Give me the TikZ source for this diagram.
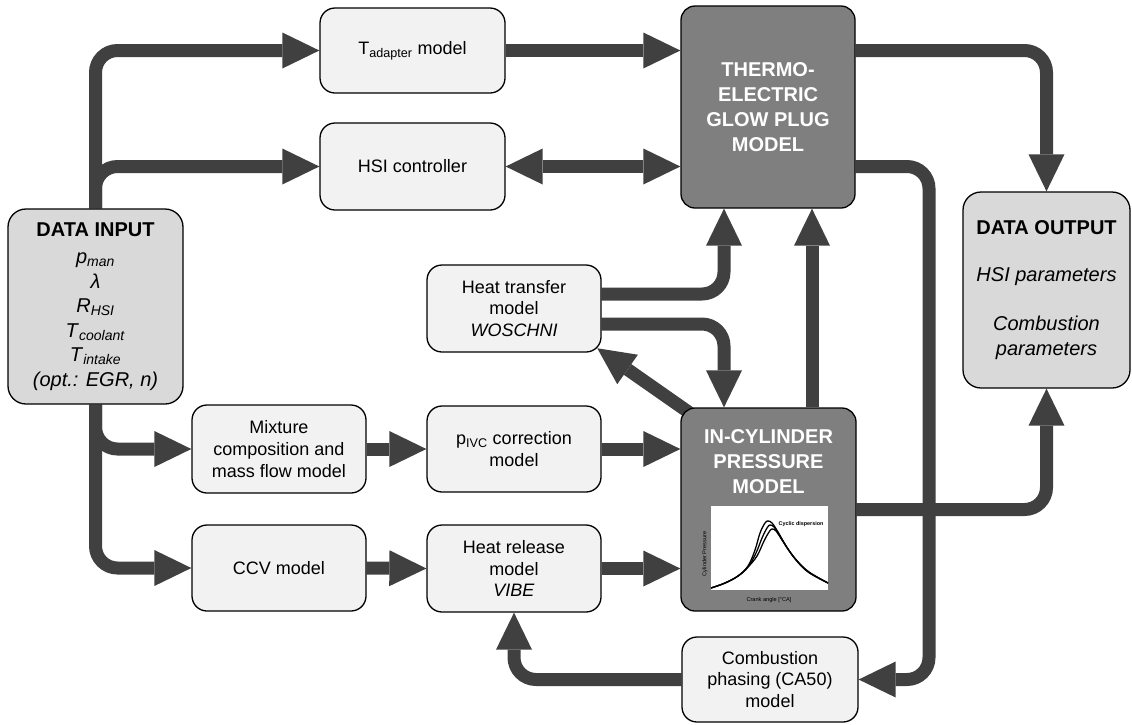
\documentclass[tikz,border=0pt]{standalone}
\usepackage{fontspec}
\setmainfont{Liberation Sans}
\usetikzlibrary{arrows.meta,calc}
\definecolor{arrowgray}{HTML}{404040}
\definecolor{boxlight}{HTML}{F2F2F2}
\definecolor{boxio}{HTML}{D9D9D9}
\definecolor{boxdark}{HTML}{7F7F7F}
\pgfdeclarelayer{bg}
\pgfsetlayers{bg,main}

\begin{document}
\begin{tikzpicture}[x=1pt,y=-1pt,
  >={Triangle[length=37pt,width=36pt,line width'=0pt]},
  box/.style={draw=black, line width=1.3pt, rounded corners=15pt, fill=boxlight,
    align=center, inner sep=0pt, font=\fontsize{18pt}{21.6pt}\selectfont},
  iobox/.style={box, fill=boxio, rounded corners=18pt,
    font=\fontsize{20pt}{24.5pt}\selectfont},
  darkbox/.style={box, fill=boxdark, rounded corners=14pt, text=white,
    font=\fontsize{20pt}{25pt}\selectfont\bfseries},
  conn/.style={draw=arrowgray, line width=13pt, rounded corners=22pt, ->},
  dconn/.style={conn, <->},
  curve/.style={line width=1.3pt, black},
  tiny/.style={inner sep=0pt, font=\fontsize{5.6pt}{6pt}\selectfont}
]
\useasboundingbox (0,0) rectangle (1132,724);

% input and output blocks
\node[iobox, minimum width=175pt, minimum height=195pt] (in) at (95.5,306.5)
  {\textbf{DATA INPUT}\\[3pt]
   \textit{p}\textsubscript{\textit{man}}\\
   \textit{λ}\\
   \textit{R}\textsubscript{\textit{HSI}}\\
   \textit{T}\textsubscript{\textit{coolant}}\\
   \textit{T}\textsubscript{\textit{intake}}\\
   \textit{(opt.: EGR, n)}};
\node[iobox, minimum width=167pt, minimum height=196pt] (out) at (1046.5,290)
  {\textbf{DATA OUTPUT}\\[22pt]
   \textit{HSI parameters}\\[25pt]
   \textit{Combustion}\\
   \textit{parameters}};

% sub-models
\node[box, minimum width=185pt, minimum height=85pt] (tad) at (412.5,50.5)
  {T\textsubscript{adapter} model};
\node[box, minimum width=185pt, minimum height=87pt] (hsi) at (412.5,166.5)
  {HSI controller};
\node[box, minimum width=174pt, minimum height=87pt] (ht) at (514,308.5)
  {Heat transfer\\model\\\textit{WOSCHNI}};
\node[box, minimum width=174pt, minimum height=88pt] (mix) at (279,449)
  {Mixture\\composition and\\mass flow model};
\node[box, minimum width=174pt, minimum height=86pt] (pivc) at (514,449)
  {p\textsubscript{IVC} correction\\model};
\node[box, minimum width=174pt, minimum height=86pt] (ccv) at (279,568)
  {CCV model};
\node[box, minimum width=174pt, minimum height=87pt] (hr) at (514,568.5)
  {Heat release\\model\\\textit{VIBE}};
\node[box, minimum width=176pt, minimum height=85pt] (comb) at (770,679.5)
  {Combustion\\phasing (CA50)\\model};

% main models
\node[darkbox, minimum width=174pt, minimum height=202pt] (thermo) at (768,107)
  {THERMO-\\ELECTRIC\\GLOW PLUG\\MODEL};
\node[darkbox, minimum width=175pt, minimum height=203pt] (cyl) at (768.5,509.5) {};
\node[align=center, inner sep=0pt, text=white,
  font=\fontsize{20pt}{25pt}\selectfont\bfseries] (cyltxt) at (768.5,462)
  {IN-CYLINDER\\PRESSURE\\MODEL};

% pressure trace inset
\fill[white] (711,506) rectangle (828,590);
\draw[curve] plot[smooth, tension=0.6] coordinates {(711,588) (725,583) (738,576)
  (748,566) (755,550) (760,533) (765,523) (768,521) (772,523) (778,532) (786,546)
  (796,560) (808,572) (828,583)};
\draw[curve] plot[smooth, tension=0.6] coordinates {(711,588) (725,583) (738,576)
  (748,567) (756,553) (762,538) (767,528) (770,525) (774,527) (780,536) (788,549)
  (797,561) (809,572) (828,583)};
\draw[curve] plot[smooth, tension=0.6] coordinates {(711,588) (725,583) (738,576)
  (748,567) (757,556) (764,541) (769,532) (772,529) (776,531) (782,540) (790,552)
  (799,563) (810,573) (828,583)};
\node[tiny, font=\fontsize{5.4pt}{6pt}\selectfont\bfseries] (cyclab) at (801,524)
  {Cyclic dispersion};
\node[tiny] (xlab) at (769,600) {Crank angle [°CA]};
\node[tiny, rotate=90] (ylab) at (705,554) {Cylinder Pressure};

% helper points for the connectors
\coordinate (rt) at (929,0);
\coordinate (c1) at (724,0);
\coordinate (c2) at (812,0);
\coordinate (htup) at ($(ht.east)+(0,-14.5)$);
\coordinate (htdn) at ($(ht.east)+(0,15.5)$);
\coordinate (dstart) at ($(cyl.north west)+(10,6)$);
\coordinate (dend) at ($(ht.south east)+(-4.4,-4.4)$);

\begin{pgfonlayer}{bg}
\draw[conn] (in.north) |- (tad.west);
\draw[conn] (in.north) |- (hsi.west);
\draw[conn] (in.south) |- (mix.west);
\draw[conn] (in.south) |- (ccv.west);
\draw[conn] (tad.east) -- (thermo.west |- tad.east);
\draw[dconn] (hsi.east) -- (thermo.west |- hsi.east);
\draw[conn] (mix.east) -- (pivc.west);
\draw[conn] (ccv.east) -- (hr.west);
\draw[conn] (pivc.east) -- (cyl.west |- pivc.east);
\draw[conn] (hr.east) -- (cyl.west |- hr.east);
\draw[conn] (thermo.east |- tad.east) -| (out.north);
\draw[conn] (thermo.east |- hsi.east) -| (rt |- comb.east) -- (comb.east);
\draw[conn] (cyl.east) -| (out.south);
\draw[conn] (comb.west) -| (hr.south);
\draw[conn] (htup) -| (c1 |- thermo.south);
\draw[conn] (htdn) -| (c1 |- cyl.north);
\draw[conn] (c2 |- cyl.north) -- (c2 |- thermo.south);
\draw[conn] (dstart) -- (dend);
\end{pgfonlayer}
\end{tikzpicture}
\end{document}
